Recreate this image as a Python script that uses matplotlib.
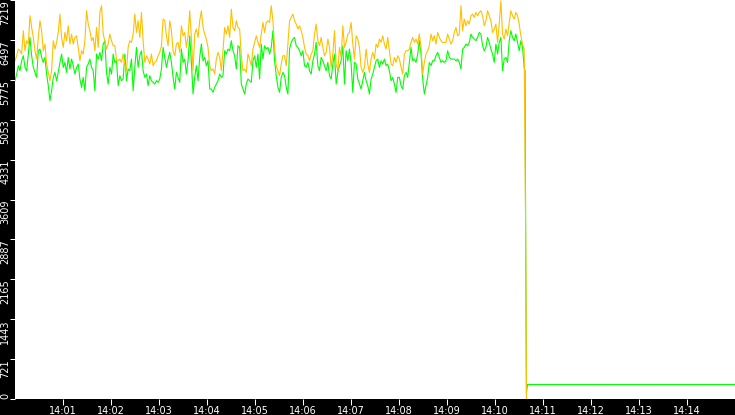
import matplotlib
matplotlib.use("Agg")
import matplotlib.pyplot as plt
import matplotlib.transforms as mtransforms
import numpy as np

# samples every ~2.08 s starting 14:00:00 (x axis is seconds after 14:00)
sample_step_s = 2.08

orange_values = [
    6120, 6211, 6331, 6301, 6241, 6663, 6301, 6482, 6422, 6934,
    6723, 6542, 6301, 6150, 6542, 6843, 6663, 6301, 6422, 6060,
    5909, 5759, 5939, 6482, 6331, 6452, 6632, 6964, 6542, 6361,
    6632, 6482, 6753, 6422, 6602, 6422, 6542, 6572, 6361, 6120,
    6301, 6241, 6482, 7024, 6783, 6663, 6482, 6542, 6301, 6723,
    6361, 6994, 7115, 6602, 6482, 6331, 6422, 6602, 6482, 6391,
    6391, 6150, 6120, 6150, 6090, 6241, 6060, 5939, 6361, 6482,
    6452, 6602, 6964, 6632, 6843, 6542, 6994,
    6482, 6090, 6211, 6150, 6060, 6241, 6030, 6090, 6120, 6211,
    6271, 6391, 6874, 6843, 6572, 6391, 6843, 6663, 6301, 6211,
    6422, 6452, 6271, 6753, 6572, 6632, 6361, 6572, 7024, 6542,
    5939, 6602, 6693, 6542, 6843, 7024, 6723, 6602, 6512, 6361,
    6030, 5939, 5970, 5879, 6150, 6271, 6181, 5939, 6301, 6723,
    6602, 6753, 6542, 7054, 6723, 6663, 6843, 6723, 6693, 6211,
    5939, 5970, 5909, 6241, 6150, 6030, 6331, 6452, 6572, 6452,
    6361, 6602, 6813, 6632, 6813, 6843, 6813,
    7115, 6843, 6361, 6030, 5939, 5849, 6060, 6211, 6211, 6030,
    6422, 6843, 6904, 6964, 6843, 6783, 6693, 6753, 6663, 6542,
    6361, 6241, 6211, 6120, 6241, 6301, 6602, 6783, 6482, 6391,
    6542, 6361, 6211, 6271, 6512, 6361, 6000, 6241, 6663, 6060,
    5939, 6361, 6181, 6753, 6361, 6452, 6602, 6632, 6813, 6422,
    6150, 6572, 6512, 6361, 6000, 5909, 6000, 6331, 6060, 5909,
    6150, 6271, 6150, 6422, 6361, 6512, 6452, 6572, 6422, 6331,
    6542, 6301, 6060, 6030, 6181, 6090, 6211,
    6150, 6000, 5879, 6241, 6301, 6301, 6331, 6452, 6542, 6452,
    6512, 6422, 6602, 6361, 5879, 6090, 6241, 6301, 6391, 6602,
    6482, 6572, 6422, 6632, 6542, 6482, 6452, 6452, 6452, 6602,
    6512, 6422, 6482, 6632, 6723, 6572, 6602, 7115, 6663, 6874,
    6753, 6843, 6783, 6934, 6964, 6904, 6994, 6934, 6994, 7024,
    6934, 6753, 6843, 7024, 6934, 6843, 6632, 6693, 6783, 6452,
    6783, 7205, 6602, 6512, 6693, 6572, 6813, 7024, 6934, 6874,
    6994, 6934, 6783, 6572, 6422, 6331,
]

green_values = [
    5759, 5879, 6030, 5939, 6120, 6211, 6000, 5939, 6241, 6542,
    6211, 6000, 5909, 5819, 6301, 6331, 6181, 6090, 6181, 5879,
    5668, 5397, 5578, 5819, 5909, 5759, 5909, 6090, 6241, 6000,
    6090, 5909, 6181, 5970, 6150, 6030, 5879, 6000, 6060, 5789,
    5638, 5819, 5578, 6000, 6060, 6150, 6000, 5939, 5578, 6241,
    6150, 6271, 6120, 6422, 6482, 5909, 5698, 6000, 5879, 6241,
    6090, 6120, 5668, 5849, 5759, 5789, 6241, 5759, 5970, 5939,
    6150, 5578, 6000, 6361, 6000, 6211, 6301,
    5939, 5819, 5879, 5668, 5849, 5759, 5729, 5698, 5759, 5729,
    5789, 5970, 6361, 6181, 6000, 6150, 6271, 6090, 5819, 5608,
    5909, 5819, 5729, 6331, 6090, 6150, 5879, 6120, 6572, 6090,
    5518, 5819, 6030, 5759, 6181, 6422, 6120, 6181, 6030, 6120,
    5608, 5608, 5548, 5638, 5698, 5759, 5879, 5819, 5849, 6301,
    6241, 6331, 6301, 6482, 6301, 6211, 5970, 6391, 6361, 5698,
    5608, 5518, 5698, 5789, 5759, 5729, 6120, 6211, 6000, 6241,
    5789, 6422, 6150, 6391, 6331, 6361, 6241,
    6361, 6663, 6120, 5849, 5638, 5548, 5819, 5909, 5849, 5638,
    5518, 6331, 6452, 6512, 6542, 6391, 6361, 6301, 6211, 6301,
    6030, 6000, 6090, 5939, 5879, 6120, 6241, 6452, 6030, 5939,
    6181, 6120, 6030, 5939, 6090, 5849, 5789, 6060, 6241, 5698,
    5909, 6030, 6120, 6391, 5698, 6301, 6120, 6331, 6060, 5548,
    6090, 6060, 5789, 5698, 5608, 5759, 5909, 5759, 5668, 5518,
    5789, 5879, 6000, 6120, 6150, 6000, 6120, 6060, 6150, 6030,
    6060, 5939, 5759, 5819, 5698, 5548, 5819,
    5819, 5668, 5608, 5849, 5909, 5819, 6090, 6361, 6120, 6150,
    6090, 6241, 6482, 6241, 5789, 5518, 5668, 5819, 6090, 6030,
    6120, 6120, 6211, 6271, 6181, 6090, 6120, 6090, 6120, 6301,
    6181, 6150, 6150, 6150, 6120, 6150, 6090, 5970, 6331, 6361,
    6422, 6391, 6452, 6602, 6542, 6512, 6482, 6542, 6632, 6602,
    6391, 6301, 6361, 6542, 6452, 6331, 6241, 6090, 6422, 6241,
    6452, 6542, 5939, 6150, 6181, 6090, 6482, 6663, 6542, 6482,
    6602, 6452, 6301, 6482, 6361, 6000,
]

# the drop at about 14:10:38 and what follows
orange_tail_s = [638.3, 639.3]
orange_tail = [2990, 0]
green_tail_s = [637.6, 638.3, 639.3, 640.6, 900.0]
green_tail = [5939, 3030, 110, 262, 262]

ytick_labels = ["0", "721", "1443", "2165", "2887", "3609",
                "4331", "5053", "5775", "6497", "7219"]
xtick_labels = ["14:01", "14:02", "14:03", "14:04", "14:05", "14:06", "14:07",
                "14:08", "14:09", "14:10", "14:11", "14:12", "14:13", "14:14"]

t = np.arange(len(orange_values)) * sample_step_s
orange_t = np.concatenate([t, orange_tail_s])
orange_y = np.concatenate([orange_values, orange_tail])
green_t = np.concatenate([np.arange(len(green_values)) * sample_step_s, green_tail_s])
green_y = np.concatenate([green_values, green_tail])

fig = plt.figure(figsize=(7.35, 4.15), dpi=100, facecolor="black")
ax = fig.add_axes([15 / 735, 16 / 415, 720 / 735, 399 / 415])
ax.set_facecolor("white")

ax.plot(green_t, green_y, color="#00FF00", lw=0.8)
ax.plot(orange_t, orange_y, color="#FFC000", lw=0.8)

ax.set_xlim(0, 900)
ax.set_ylim(0, 7219)
for s in ax.spines.values():
    s.set_visible(False)

ax.set_yticks([int(v) for v in ytick_labels])
ax.set_yticklabels(ytick_labels, rotation=90, va="top")
# labels hang just below their tick, the 0 one sits above it
shift = mtransforms.ScaledTranslation(0, -2 / 100, fig.dpi_scale_trans)
for lab in ax.get_yticklabels():
    lab.set_transform(lab.get_transform() + shift)
ax.get_yticklabels()[0].set_va("bottom")
ax.set_xticks(np.arange(1, len(xtick_labels) + 1) * 60)
ax.set_xticklabels(xtick_labels)

ax.tick_params(colors="white", labelsize=7, width=0.75)
ax.tick_params(axis="y", length=3.4, pad=0)
ax.tick_params(axis="x", length=4, pad=1.2)

fig.savefig("out.png", dpi=100, facecolor="black")
